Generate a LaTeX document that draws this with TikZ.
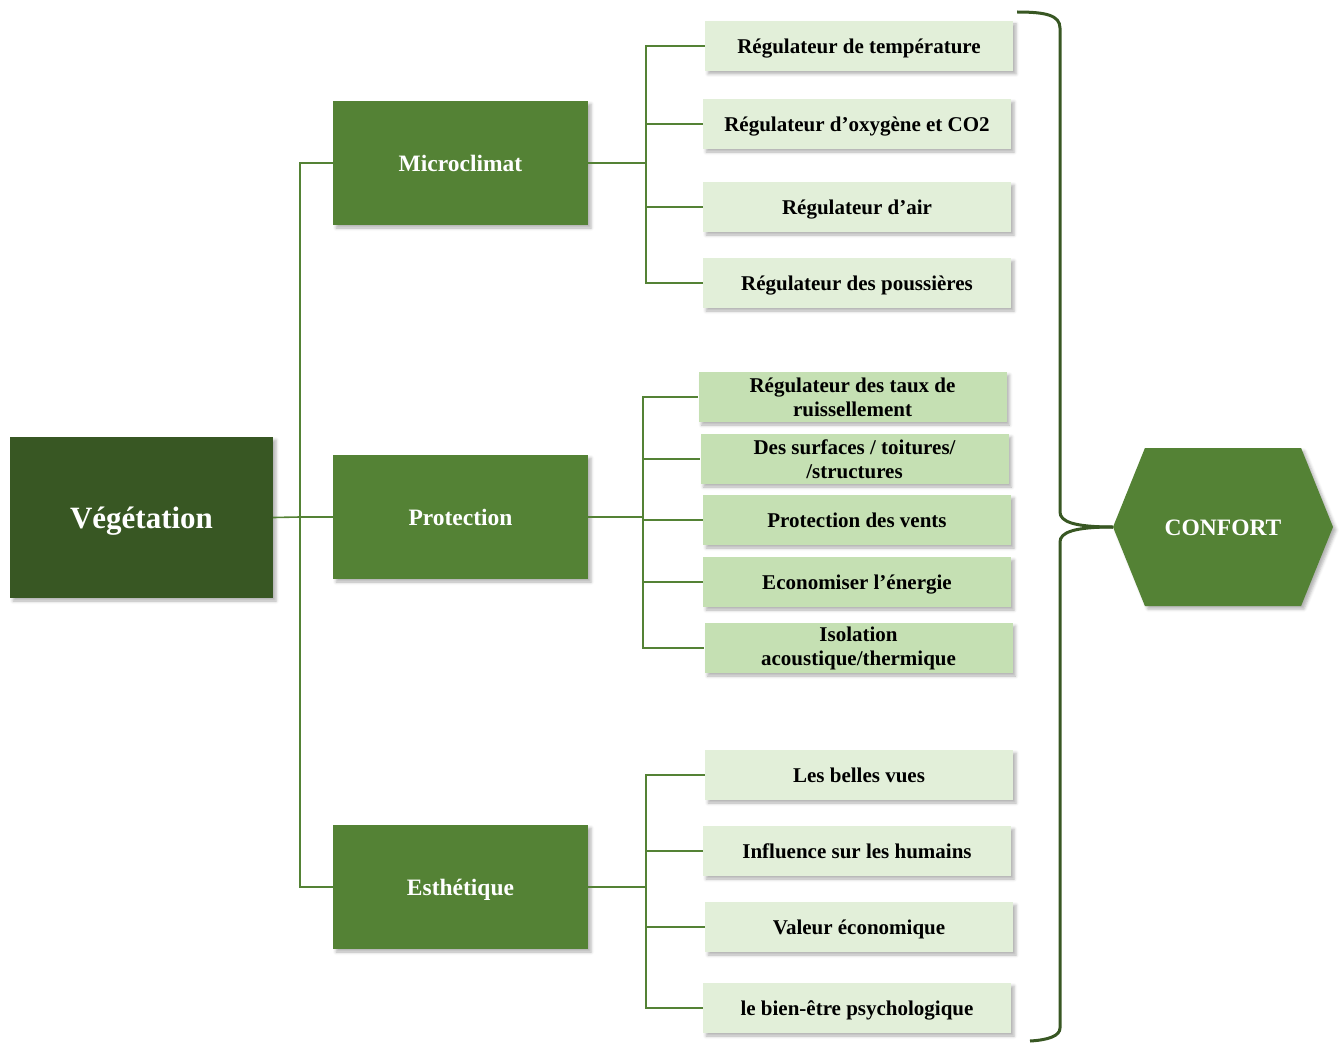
\documentclass[tikz,border=0pt]{standalone}
\usepackage{fontspec}
\setmainfont{Liberation Serif}
\usetikzlibrary{shapes.symbols, shadows.blur, positioning}
\definecolor{veg_dark}{RGB}{56, 87, 35}
\definecolor{leaf_green}{RGB}{84, 130, 53}
\definecolor{leaf_light}{RGB}{226, 239, 217}
\definecolor{leaf_mid}{RGB}{197, 224, 179}

\begin{document}
\begin{tikzpicture}[
    x=1pt, y=-1pt,
    soft/.style={
        blur shadow={shadow xshift=3pt, shadow yshift=-3pt,
                     shadow opacity=30, shadow blur radius=3pt}
    },
    root/.style={
        rectangle,
        fill=veg_dark,
        text=white,
        text height=21pt,
        text depth=0pt,
        minimum width=263pt,
        minimum height=161pt,
        font=\fontsize{31}{36}\selectfont\bfseries,
        soft
    },
    theme/.style={
        rectangle,
        fill=leaf_green,
        text=white,
        text height=17pt,
        text depth=0pt,
        minimum width=255pt,
        minimum height=124pt,
        font=\fontsize{23.5}{28}\selectfont\bfseries,
        soft
    },
    effect/.style={
        rectangle,
        fill=#1,
        text=black,
        inner sep=0pt,
        minimum width=308pt,
        minimum height=50pt,
        align=center,
        font=\fontsize{21}{24}\selectfont\bfseries,
        soft
    },
    oneline/.style={
        text height=15pt,
        text depth=0pt
    },
    goal/.style={
        shape=signal,
        signal to=west and east,
        signal pointer angle=136,
        fill=leaf_green,
        text=white,
        text height=16pt,
        text depth=0pt,
        inner sep=0pt,
        minimum width=220pt,
        minimum height=158pt,
        font=\fontsize{23.5}{28}\selectfont\bfseries,
        soft
    },
    link/.style={
        draw=leaf_green,
        line width=1.6pt
    },
    brace/.style={
        draw=veg_dark,
        line width=3pt
    }
]
\useasboundingbox (0,0) rectangle (1341,1043);

% Main node
\node[root] (veg) at (141.5,517.5) {Végétation};

% Theme nodes
\node[theme] (micro) at (460.5,163) {Microclimat};
\node[theme] (prot) at (460.5,517) {Protection};
\node[theme] (esth) at (460.5,887) {Esthétique};

% Microclimat effects
\node[effect=leaf_light, oneline] (t1) at (859,46) {Régulateur de température};
\node[effect=leaf_light, oneline] (t2) at (857,124) {Régulateur d’oxygène et CO2};
\node[effect=leaf_light, oneline] (t3) at (857,207) {Régulateur d’air};
\node[effect=leaf_light, oneline] (t4) at (857,283) {Régulateur des poussières};

% Protection effects
\node[effect=leaf_mid] (p1) at (852.5,397) {Régulateur des taux de\\ruissellement};
\node[effect=leaf_mid] (p2) at (854.5,459) {Des surfaces / toitures/\\/structures};
\node[effect=leaf_mid, oneline] (p3) at (857,520) {Protection des vents};
\node[effect=leaf_mid, oneline] (p4) at (857,582) {Economiser l’énergie};
\node[effect=leaf_mid] (p5) at (858.5,648) {Isolation\\acoustique/thermique};

% Esthetique effects
\node[effect=leaf_light, oneline] (e1) at (859,775) {Les belles vues};
\node[effect=leaf_light, oneline] (e2) at (857,851) {Influence sur les humains};
\node[effect=leaf_light, oneline] (e3) at (859,927) {Valeur économique};
\node[effect=leaf_light, oneline] (e4) at (857,1008) {le bien-être psychologique};

% Result node
\node[goal] (confort) at (1223,527) {CONFORT};

% Junction points
\coordinate (trunk) at (300,517);
\coordinate (mbus) at (646,163);
\coordinate (pbus) at (643,517);
\coordinate (ebus) at (646,887);
\coordinate (brace_top) at (1017,12);
\coordinate (brace_bottom) at (1030,1041);

% Draw connecting lines
\draw[link] (veg.east) -- (trunk);
\draw[link] (trunk) |- (micro.west);
\draw[link] (trunk) -- (prot.west);
\draw[link] (trunk) |- (esth.west);

\draw[link] (micro.east) -- (mbus);
\draw[link] (mbus) |- (t1.west);
\draw[link] (mbus) |- (t2.west);
\draw[link] (mbus) |- (t3.west);
\draw[link] (mbus) |- (t4.west);

\draw[link] (prot.east) -- (pbus);
\draw[link] (pbus) |- (p1.west);
\draw[link] (pbus) |- (p2.west);
\draw[link] (pbus) |- (p3.west);
\draw[link] (pbus) |- (p4.west);
\draw[link] (pbus) |- (p5.west);

\draw[link] (esth.east) -- (ebus);
\draw[link] (ebus) |- (e1.west);
\draw[link] (ebus) |- (e2.west);
\draw[link] (ebus) |- (e3.west);
\draw[link] (ebus) |- (e4.west);

% Brace towards the result
\draw[brace] (brace_top) .. controls (1045,12) and (1060,15) .. (1060,28)
    -- (1060,512) .. controls (1060,522) and (1075,527) .. (confort.west);
\draw[brace] (confort.west) .. controls (1075,527) and (1060,532) .. (1060,542)
    -- (1060,1028) .. controls (1060,1036) and (1048,1040) .. (brace_bottom);

\end{tikzpicture}
\end{document}
